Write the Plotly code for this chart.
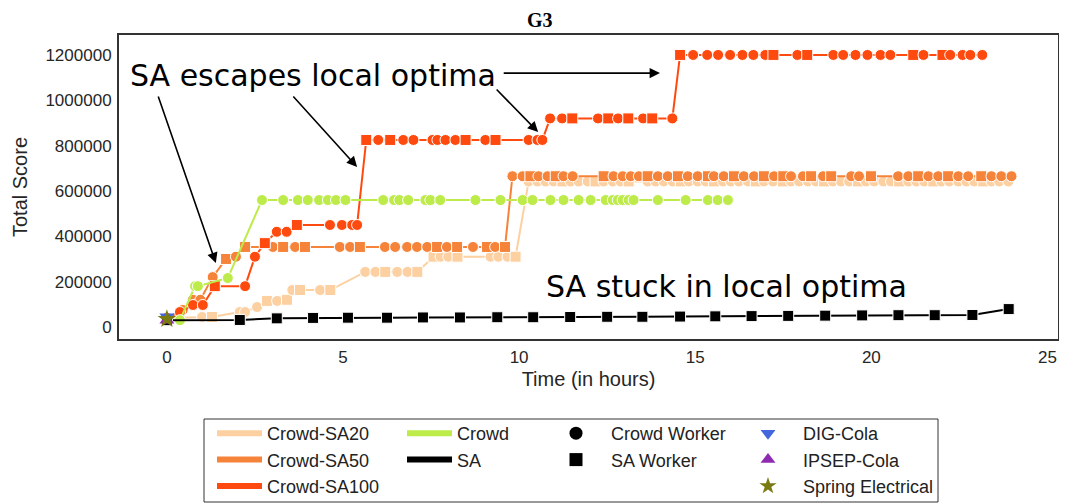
import plotly.graph_objects as go

# ---- data (time in hours, total score) ----
sa20_hours = [0, 1.0, 1.28, 2.07, 2.22, 2.56, 2.84, 3.13, 3.41, 3.56, 3.78, 4.35, 4.64,
              5.63, 5.92, 6.2, 6.54, 6.83, 7.11, 7.57, 7.77, 7.99, 8.25, 9.19, 9.41, 9.67, 9.9,
              10.27, 10.52, 10.75, 10.98, 11.23, 11.46, 11.69, 11.95, 12.17, 12.40,
              12.66, 12.88, 13.11, 13.65, 13.88, 14.11, 14.36, 14.59, 14.82, 15.07,
              15.30, 15.53, 15.79, 16.01, 16.24, 16.50, 16.72, 16.95, 17.21, 17.49,
              17.72, 17.95, 18.20, 18.43, 18.66, 18.91, 19.14, 19.37, 19.62, 19.85,
              20.08, 20.34, 20.56, 20.79, 21.05, 21.28, 21.50, 21.76, 21.99, 22.21,
              22.47, 22.70, 22.92, 23.18, 23.41, 23.63, 23.89]
sa20_score = [40000, 44000, 44000, 66000, 66000, 88000, 115000, 115000, 120000, 163000, 163000, 163000, 163000,
              243000, 243000, 243000, 243000, 243000, 243000, 310000, 310000, 310000, 310000, 310000, 310000, 310000, 310000,
              642000, 642000, 642000, 642000, 642000, 642000, 642000, 642000, 642000, 642000,
              642000, 642000, 642000, 642000, 642000, 642000, 642000, 642000, 642000, 642000,
              642000, 642000, 642000, 642000, 642000, 642000, 642000, 642000, 642000, 642000,
              642000, 642000, 642000, 642000, 642000, 642000, 642000, 642000, 642000, 642000,
              642000, 642000, 642000, 642000, 642000, 642000, 642000, 642000, 642000, 642000,
              642000, 642000, 642000, 642000, 642000, 642000, 642000]
sa20_worker = "CCSCC CSCSC SCSCC SCCSS CCSCC CS" + "CCCCS CCCSC CCSCC CCSCC CSCCC CSCCS CCCCS CCCSC CCCSC CCSCC CCCSC CC"

sa50_hours = [0, 0.45, 0.74, 0.95, 1.3, 1.68, 1.96, 2.22, 3.01, 3.3, 3.64, 3.92, 4.91, 5.2, 5.48,
              6.19, 6.48, 6.82, 7.1, 7.39, 7.67, 7.95, 8.24, 8.69, 9.09, 9.32, 9.6,
              9.81, 10.10, 10.32, 10.55, 10.81, 11.04, 11.26, 11.52, 12.40, 12.68,
              12.94, 13.17, 13.40, 13.65, 13.94, 14.22, 14.51, 14.79, 15.07, 15.36,
              15.53, 15.81, 16.10, 16.38, 16.67, 16.95, 17.24, 17.50, 17.72, 18.06,
              18.29, 18.63, 18.86, 19.43, 19.65, 19.99, 20.76, 21.05, 21.33, 21.62,
              21.90, 22.18, 22.47, 22.75, 23.12, 23.41, 23.69, 23.98]
sa50_score = [40000, 75000, 120000, 120000, 220000, 300000, 310000, 353000, 353000, 353000, 353000, 353000, 353000, 353000, 353000,
              353000, 353000, 353000, 353000, 353000, 353000, 353000, 353000, 353000, 353000, 353000, 353000,
              665000, 665000, 665000, 665000, 665000, 665000, 665000, 665000, 665000, 665000,
              665000, 665000, 665000, 665000, 665000, 665000, 665000, 665000, 665000, 665000,
              665000, 665000, 665000, 665000, 665000, 665000, 665000, 665000, 665000, 665000,
              665000, 665000, 665000, 665000, 665000, 665000, 665000, 665000, 665000, 665000,
              665000, 665000, 665000, 665000, 665000, 665000, 665000, 665000]
sa50_worker = "CCCCC SCSCS CSCCS CCCCC SCSCS CS" + "CCSCC SCCSC CCCSC CSCCS CCSCC SCSCC SCSCC SCCSC CSCCS CCC"

sa100_hours = [0, 0.37, 0.74, 1.02, 1.36, 2.22, 2.5, 2.78, 3.12, 3.4, 3.69, 4.63, 4.97, 5.26, 5.4,
               5.66, 6.0, 6.34, 6.71, 7.0, 7.54, 7.68, 7.91, 8.19, 8.48, 9.04, 9.33, 10.27, 10.52, 10.66,
               10.88, 11.22, 11.51, 12.24, 12.53, 12.81, 13.1, 13.52, 13.78, 14.35,
               14.57, 14.94, 15.34, 15.65, 15.99, 16.34, 16.65, 16.99, 17.22, 17.9, 18.18, 18.92,
               19.2, 19.55, 19.89, 20.26, 20.54, 21.19, 21.48, 22.02, 22.24, 22.59, 22.81, 23.15]
sa100_score = [40000, 66000, 97000, 97000, 180000, 180000, 310000, 370000, 420000, 420000, 450000, 450000, 450000, 450000, 450000,
               825000, 825000, 825000, 825000, 825000, 825000, 825000, 825000, 825000, 825000, 825000, 825000, 825000, 825000, 825000,
               920000, 920000, 920000, 920000, 920000, 920000, 920000, 920000, 920000, 920000,
               1200000, 1200000, 1200000, 1200000, 1200000, 1200000, 1200000, 1200000, 1200000, 1200000, 1200000, 1200000,
               1200000, 1200000, 1200000, 1200000, 1200000, 1200000, 1200000, 1200000, 1200000, 1200000, 1200000, 1200000]
sa100_worker = "CCCCS CCSCC SCCCC" + "SCSCC CCCCS CSCCC" + "CCSCS CSCSC" + "SCCCC CCCSC SCCCC CCSCS CCCC"

crowd_hours = [0, 0.37, 0.8, 0.88, 1.73, 2.7, 3.3, 3.72, 4.0, 4.32, 4.57, 4.8, 5.07, 6.14, 6.45, 6.6, 6.85,
               7.34, 7.48, 7.76, 8.76, 9.47, 10.1, 10.38, 10.89, 11.26, 11.69, 12.03, 12.46, 12.66,
               12.8, 12.94, 13.11, 13.25, 13.94, 14.73, 15.36, 15.64, 15.93]
crowd_score = [30000, 30000, 180000, 180000, 216000, 560000, 560000, 560000, 560000, 560000, 560000, 560000, 560000,
               560000, 560000, 560000, 560000, 560000, 560000, 560000, 560000, 560000, 560000, 560000, 560000,
               560000, 560000, 560000, 560000, 560000, 560000, 560000, 560000, 560000, 560000, 560000,
               560000, 560000, 560000]

sa_hours = [0, 2.07, 3.12, 4.15, 5.14, 6.25, 7.27, 8.32, 9.38, 10.4, 11.45, 12.5, 13.5, 14.57,
            15.57, 16.6, 17.64, 18.69, 19.74, 20.77, 21.8, 22.87, 23.9]
sa_score = [30000, 31000, 38000, 40000, 41000, 41000, 42000, 42000, 43000, 43000, 44000, 45000, 45000,
            46000, 47000, 48000, 49000, 50000, 51000, 52000, 52000, 53000, 79000]

baselines = ["DIG-Cola", "IPSEP-Cola", "Spring Electrical"]
baseline_hours = [0, 0, 0]
baseline_score = [45000, 30000, 35000]

colors = {"Crowd-SA20": "#fdd0a2", "Crowd-SA50": "#f5843a", "Crowd-SA100": "#ff4a0f",
          "Crowd": "#bdeb4a", "SA": "#000000"}
base_style = {"DIG-Cola": ("triangle-down", "#4466dd"),
              "IPSEP-Cola": ("triangle-up", "#8e2bb0"),
              "Spring Electrical": ("star", "#7a7a12")}

symbol_of = {"C": "circle", "S": "square"}


def symbols(worker, n):
    w = worker.replace(" ", "").ljust(n, "C")[:n]
    return [symbol_of[c] for c in w]


fig = go.Figure()

series = [
    ("Crowd-SA20", sa20_hours, sa20_score, symbols(sa20_worker, len(sa20_hours))),
    ("Crowd-SA50", sa50_hours, sa50_score, symbols(sa50_worker, len(sa50_hours))),
    ("Crowd-SA100", sa100_hours, sa100_score, symbols(sa100_worker, len(sa100_hours))),
    ("Crowd", crowd_hours, crowd_score, "circle"),
    ("SA", sa_hours, sa_score, "square"),
]
for name, hx, sy, sym in series:
    fig.add_trace(go.Scatter(
        x=hx, y=sy, mode="lines+markers", name=name, showlegend=False,
        line=dict(color=colors[name], width=2),
        marker=dict(symbol=sym, size=11, color=colors[name], line=dict(color="white", width=1)),
    ))

for name, hx, sy in zip(baselines, baseline_hours, baseline_score):
    sym, col = base_style[name]
    fig.add_trace(go.Scatter(
        x=[hx], y=[sy], mode="markers", name=name, showlegend=False,
        marker=dict(symbol=sym, size=13 if sym != "star" else 14, color=col),
    ))

# legend entries, arranged in four columns like the original
for name in ["Crowd-SA20", "Crowd-SA50", "Crowd-SA100"]:
    fig.add_trace(go.Scatter(x=[None], y=[None], mode="lines", name=name, legend="legend",
                             line=dict(color=colors[name], width=6)))
for name in ["Crowd", "SA"]:
    fig.add_trace(go.Scatter(x=[None], y=[None], mode="lines", name=name, legend="legend2",
                             line=dict(color=colors[name], width=6)))
for name, sym in [("Crowd Worker", "circle"), ("SA Worker", "square")]:
    fig.add_trace(go.Scatter(x=[None], y=[None], mode="markers", name=name, legend="legend3",
                             marker=dict(symbol=sym, size=13, color="black")))
for name in baselines:
    sym, col = base_style[name]
    fig.add_trace(go.Scatter(x=[None], y=[None], mode="markers", name=name, legend="legend4",
                             marker=dict(symbol=sym, size=13, color=col)))

font_sans = "Liberation Sans, Arial, sans-serif"
leg_common = dict(orientation="v", xanchor="left", yanchor="top", bgcolor="rgba(0,0,0,0)",
                  font=dict(family=font_sans, size=18, color="#222"), itemwidth=45,
                  tracegroupgap=0)
leg_top = (339 - 415) / 304

# arrows + texts
arrow = dict(showarrow=True, arrowhead=2, arrowsize=1.3, arrowwidth=1.6, arrowcolor="black",
             axref="x", ayref="y", xref="x", yref="y", text="")
annotations = [
    dict(arrow, x=1.39, y=282000, ax=-0.26, ay=1023000),
    dict(arrow, x=5.40, y=706000, ax=3.55, ay=1023000),
    dict(arrow, x=10.54, y=860000, ax=9.32, ay=1054000),
    dict(arrow, x=14.0, y=1120000, ax=9.52, ay=1120000),
    dict(x=4.15, y=1110000, xref="x", yref="y", text="SA escapes local optima", showarrow=False,
         font=dict(family="DejaVu Sans", size=30, color="black")),
    dict(x=15.9, y=180000, xref="x", yref="y", text="SA stuck in local optima", showarrow=False,
         font=dict(family="DejaVu Sans", size=30, color="black")),
    dict(x=(540 - 119) / 939, y=(339 - 20) / 304, xref="paper", yref="paper", text="<b>G3</b>",
         showarrow=False, xanchor="center", yanchor="middle",
         font=dict(family="Liberation Serif, Times New Roman, serif", size=20, color="black")),
]

# the page body adds an 8px margin, so the figure is 8px smaller and shifted margins
fig.update_layout(
    width=1059, height=496,
    margin=dict(l=111, r=9, t=27, b=165, autoexpand=False),
    paper_bgcolor="white", plot_bgcolor="white",
    annotations=annotations,
    legend=dict(leg_common, x=(212 - 119) / 939, y=leg_top),
    legend2=dict(leg_common, x=(402 - 119) / 939, y=leg_top),
    legend3=dict(leg_common, x=(541 - 119) / 939, y=leg_top, itemwidth=60),
    legend4=dict(leg_common, x=(733 - 119) / 939, y=leg_top, itemwidth=60),
    shapes=[dict(type="rect", xref="paper", yref="paper",
                 x0=(204 - 119) / 939, x1=(938 - 119) / 939,
                 y0=(339 - 419) / 304, y1=(339 - 502) / 304,
                 line=dict(color="#333", width=1))],
)

fig.update_xaxes(range=[-1.36, 25.3], tickvals=[0, 5, 10, 15, 20, 25], showgrid=False, zeroline=False,
                 automargin=False,
                 showline=True, mirror=True, linecolor="#333", linewidth=2,
                 ticks="outside", ticklen=2, tickcolor="rgba(0,0,0,0)",
                 tickfont=dict(family=font_sans, size=17, color="#262626"),
                 title=dict(text="Time (in hours)", standoff=6,
                            font=dict(family=font_sans, size=20, color="#262626")))
fig.update_yaxes(range=[-53000, 1288000], tickvals=[0, 200000, 400000, 600000, 800000, 1000000, 1200000],
                 tickformat="d", showgrid=False, zeroline=False, automargin=False,
                 showline=True, mirror=True, linecolor="#333", linewidth=2,
                 ticks="outside", ticklen=2, tickcolor="rgba(0,0,0,0)",
                 tickfont=dict(family=font_sans, size=17, color="#262626"),
                 title=dict(text="Total Score", standoff=12,
                            font=dict(family=font_sans, size=20, color="#262626")))

fig.write_html("out.html")
